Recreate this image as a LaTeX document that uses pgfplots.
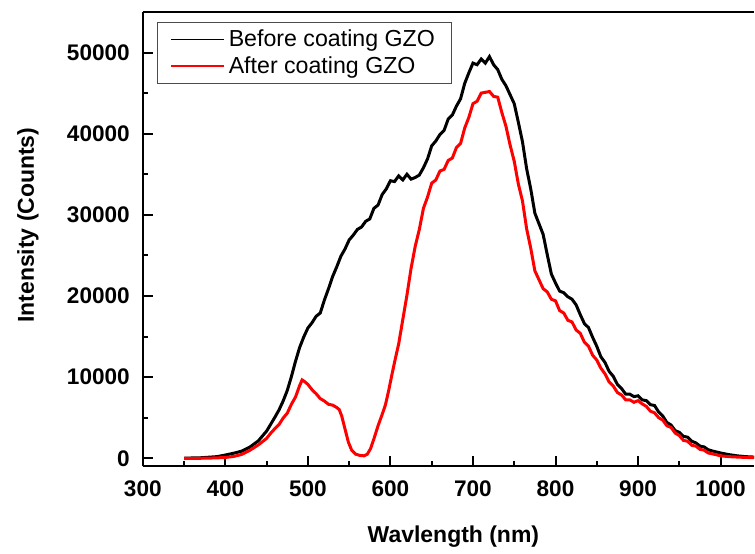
\documentclass[border=0pt]{standalone}
\usepackage{pgfplots}
\pgfplotsset{compat=1.18}
\usepackage{fontspec}
\setmainfont{Liberation Sans}
\begin{document}
\begin{tikzpicture}
\path (-71.5pt,-40.5pt) rectangle (306pt,233.5pt);
\begin{axis}[
  at={(0,0)}, anchor=south west,
  scale only axis,
  width=306pt, height=227.5pt,
  xmin=300, xmax=1040.5, ymin=-1000, ymax=55000,
  axis lines=left,
  axis line style={line width=1pt, -},
  xtick={300,400,...,1000},
  ytick={0,10000,...,50000},
  minor xtick={350,450,...,1050},
  minor ytick={5000,15000,...,55000},
  tick align=inside,
  major tick length=5pt, minor tick length=2.5pt,
  every tick/.style={line width=1pt, black},
  scaled y ticks=false,
  /pgf/number format/set thousands separator={},
  /pgf/number format/assume math mode=true,
  ticklabel style={font=\bfseries\fontsize{11.3}{13}\selectfont},
  yticklabel style={xshift=-3pt},
  xticklabel style={yshift=-3.5pt},
  xlabel={Wavlength (nm)},
  ylabel={Intensity (Counts)},
  xlabel style={font=\bfseries\fontsize{11.5}{13}\selectfont, at={(axis description cs:0,0)}, anchor=center, xshift=155.5pt, yshift=-35pt},
  ylabel style={font=\bfseries\fontsize{11.5}{13}\selectfont, at={(axis description cs:0,0.5)}, anchor=center, rotate=0, xshift=7pt, yshift=57.5pt},
  legend style={at={(0,1)}, anchor=north west, xshift=7pt, yshift=-5pt,
    draw=black!70, line width=0.5pt, font=\fontsize{11.6}{12.5}\selectfont,
    inner xsep=6.5pt, inner ysep=1.5pt, row sep=-0.5pt, cells={anchor=west}},
  legend image code/.code={\draw[#1, line width=0.8pt] (0pt,0pt) -- (26.5pt,0pt);},
]
\draw[line width=1pt] (rel axis cs:0,1) -- (rel axis cs:1,1);
\addplot[black, line width=1.5pt] coordinates {
(350,0) (360,40) (370,60) (380,130) (390,200) (400,400) (410,620) (420,880) (430,1400) (440,2150)
(450,3350) (455,4200) (460,5050) (465,5950) (470,7050) (475,8350) (480,10050) (485,11950) (490,13650) (495,14950)
(500,16050) (505,16700) (510,17500) (515,17900) (520,19500) (525,20900) (530,22400) (535,23600) (540,24900) (545,25800)
(550,26900) (555,27500) (560,28200) (565,28500) (570,29200) (575,29500) (580,30800) (585,31200) (590,32500) (595,33200)
(600,34200) (605,34100) (610,34800) (615,34300) (620,35000) (625,34400) (630,34600) (635,34900) (640,35800) (645,36900)
(650,38500) (655,39100) (660,39900) (665,40400) (670,41800) (675,42300) (680,43400) (685,44300) (690,46200) (695,47500)
(700,48700) (705,48500) (710,49200) (715,48700) (720,49500) (725,48500) (730,47900) (735,46700) (740,45900) (745,44800)
(750,43700) (755,41400) (760,39000) (765,35700) (770,33200) (775,30200) (780,28900) (785,27600) (790,25100) (795,22700)
(800,21600) (805,20600) (810,20400) (815,19900) (820,19600) (825,18900) (830,17700) (835,16600) (840,16100) (845,14900)
(850,13800) (855,12500) (860,11800) (865,10700) (870,10100) (875,9100) (880,8600) (885,7900) (890,7900) (895,7600)
(900,7700) (905,7200) (910,7100) (915,6600) (920,6500) (925,5700) (930,5200) (935,4400) (940,4100) (945,3400)
(950,3200) (955,2700) (960,2600) (965,2100) (970,1900) (975,1500) (980,1400) (985,1050) (990,900) (1000,650)
(1010,450) (1020,300) (1030,200) (1040,150) (1050,100)
};
\addlegendentry{Before coating GZO}
\addplot[red, line width=1.5pt] coordinates {
(350,0) (360,0) (370,0) (380,20) (390,50) (400,100) (410,220) (420,480) (430,1000) (440,1650)
(450,2450) (455,3100) (460,3650) (465,4150) (470,4950) (475,5550) (480,6650) (485,7550) (490,8950) (493,9650)
(496,9450) (500,9100) (505,8450) (510,7950) (515,7350) (520,7050) (525,6650) (530,6550) (535,6250) (538,6000)
(541,5200) (545,3600) (549,2000) (553,1000) (558,500) (563,350) (568,300) (572,500) (576,1200) (580,2400)
(585,4000) (590,5400) (594,6600) (598,8400) (602,10400) (606,12300) (610,14100) (615,17100) (620,20100) (625,23400)
(630,26100) (635,28200) (640,30800) (645,32200) (650,33900) (655,34300) (660,35400) (665,35600) (670,36700) (675,37000)
(680,38300) (685,38800) (690,40700) (695,42000) (700,43700) (705,44000) (710,45000) (715,45100) (720,45200) (725,44600)
(730,44500) (735,42600) (740,40900) (745,38600) (750,36600) (755,33800) (760,31700) (765,28300) (770,25900) (775,23100)
(780,22000) (785,20900) (790,20500) (795,19600) (800,19400) (805,18200) (810,17900) (815,17000) (820,16800) (825,15800)
(830,15400) (835,14300) (840,13800) (845,12700) (850,12100) (855,11100) (860,10400) (865,9400) (870,8900) (875,8100)
(880,7800) (885,7200) (890,7200) (895,6900) (900,7100) (905,6700) (910,6400) (915,5800) (920,5600) (925,5000)
(930,4700) (935,4000) (940,3800) (945,3100) (950,2800) (955,2200) (960,2100) (965,1600) (970,1500) (975,1100)
(980,1000) (985,650) (990,550) (1000,300) (1010,200) (1020,150) (1030,100) (1040,80) (1050,50)
};
\addlegendentry{After coating GZO}
\end{axis}
\end{tikzpicture}
\end{document}
